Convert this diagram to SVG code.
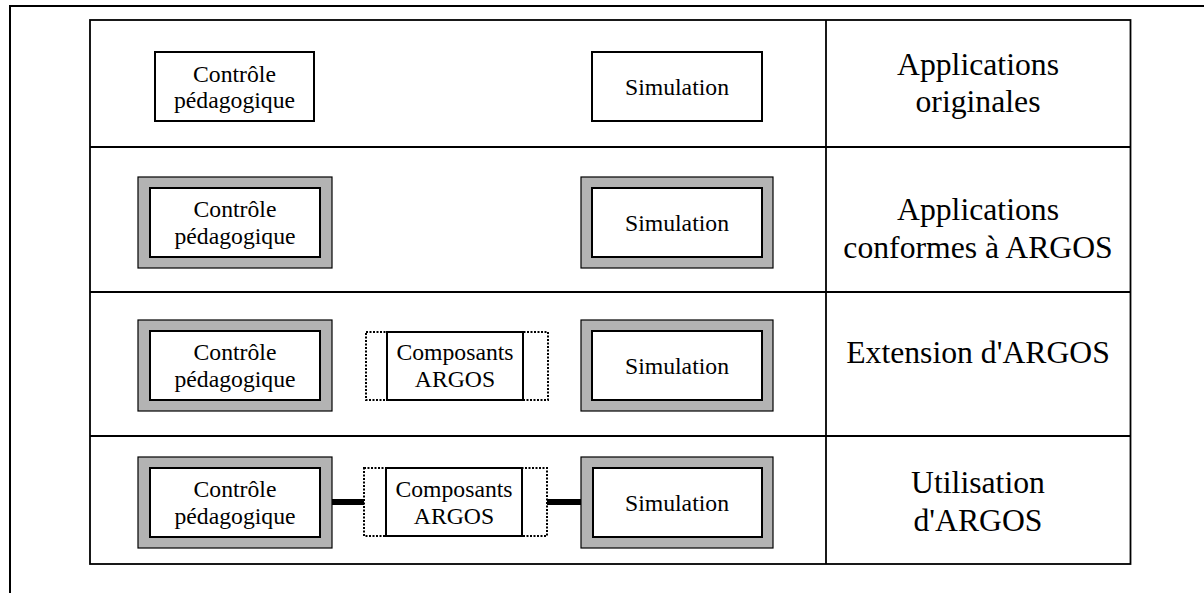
<svg xmlns="http://www.w3.org/2000/svg" width="1204" height="593" viewBox="0 0 1204 593">
<style>
.t{font-family:"Liberation Serif","Times New Roman",serif;fill:#000;text-anchor:middle}
.s{font-size:23.7px}
.l{font-size:31.7px}
.box{fill:#fff;stroke:#000;stroke-width:2}
.frame{fill:#b3b3b3;stroke:#000;stroke-width:1.2}
.dot{fill:#fff;stroke:#000;stroke-width:2;stroke-dasharray:2 1.5}
.grid{fill:none;stroke:#000;stroke-width:1.8}
.conn{stroke:#000;stroke-width:6}
</style>
<rect width="1204" height="593" fill="#fff"/>
<g id="page-border">
<line x1="9" y1="6" x2="1204" y2="6" stroke="#000" stroke-width="2"/>
<line x1="10" y1="5" x2="10" y2="593" stroke="#000" stroke-width="2"/>
</g>
<g id="table">
<rect class="grid" x="90" y="20" width="1040.5" height="544"/>
<line class="grid" x1="826" y1="20" x2="826" y2="564"/>
<line class="grid" x1="90" y1="147" x2="1130.5" y2="147"/>
<line class="grid" x1="90" y1="292" x2="1130.5" y2="292"/>
<line class="grid" x1="90" y1="436" x2="1130.5" y2="436"/>
</g>
<g id="labels">
<text class="t l" x="978" y="75">Applications</text>
<text class="t l" x="978" y="112">originales</text>
<text class="t l" x="978" y="220">Applications</text>
<text class="t l" x="978" y="258">conformes à ARGOS</text>
<text class="t l" x="978" y="363">Extension d'ARGOS</text>
<text class="t l" x="978" y="493">Utilisation</text>
<text class="t l" x="978" y="531">d'ARGOS</text>
</g>
<g id="connectors">
<line class="conn" x1="332" y1="502" x2="364" y2="502"/>
<line class="conn" x1="547" y1="502" x2="581" y2="502"/>
</g>
<g id="r1-controle">
<rect class="box" x="155" y="52" width="159" height="69"/>
<text class="t s" x="234.5" y="82">Contrôle</text>
<text class="t s" x="234.5" y="108">pédagogique</text>
</g>
<g id="r1-simulation">
<rect class="box" x="592" y="52" width="170" height="69"/>
<text class="t s" x="677" y="95">Simulation</text>
</g>
<g id="r2-controle">
<rect class="frame" x="138" y="177" width="194" height="91"/>
<rect class="box" x="150" y="188" width="170" height="69"/>
<text class="t s" x="235" y="217">Contrôle</text>
<text class="t s" x="235" y="244">pédagogique</text>
</g>
<g id="r2-simulation">
<rect class="frame" x="581" y="177" width="192" height="91"/>
<rect class="box" x="592" y="188" width="170" height="69"/>
<text class="t s" x="677" y="231">Simulation</text>
</g>
<g id="r3-controle">
<rect class="frame" x="138" y="320" width="194" height="91"/>
<rect class="box" x="150" y="331" width="170" height="69"/>
<text class="t s" x="235" y="360">Contrôle</text>
<text class="t s" x="235" y="387">pédagogique</text>
</g>
<g id="r3-composants">
<rect class="dot" x="366" y="332" width="182" height="68"/>
<rect class="box" x="387" y="332" width="136" height="68"/>
<text class="t s" x="455" y="360">Composants</text>
<text class="t s" x="455" y="387">ARGOS</text>
</g>
<g id="r3-simulation">
<rect class="frame" x="581" y="320" width="192" height="91"/>
<rect class="box" x="592" y="331" width="170" height="69"/>
<text class="t s" x="677" y="374">Simulation</text>
</g>
<g id="r4-controle">
<rect class="frame" x="138" y="457" width="194" height="91"/>
<rect class="box" x="150" y="468" width="170" height="69"/>
<text class="t s" x="235" y="497">Contrôle</text>
<text class="t s" x="235" y="524">pédagogique</text>
</g>
<g id="r4-composants">
<rect class="dot" x="364" y="468" width="183" height="68"/>
<rect class="box" x="386" y="468" width="136" height="68"/>
<text class="t s" x="454" y="497">Composants</text>
<text class="t s" x="454" y="524">ARGOS</text>
</g>
<g id="r4-simulation">
<rect class="frame" x="581" y="457" width="192" height="91"/>
<rect class="box" x="593" y="468" width="169" height="69"/>
<text class="t s" x="677" y="511">Simulation</text>
</g>
</svg>
